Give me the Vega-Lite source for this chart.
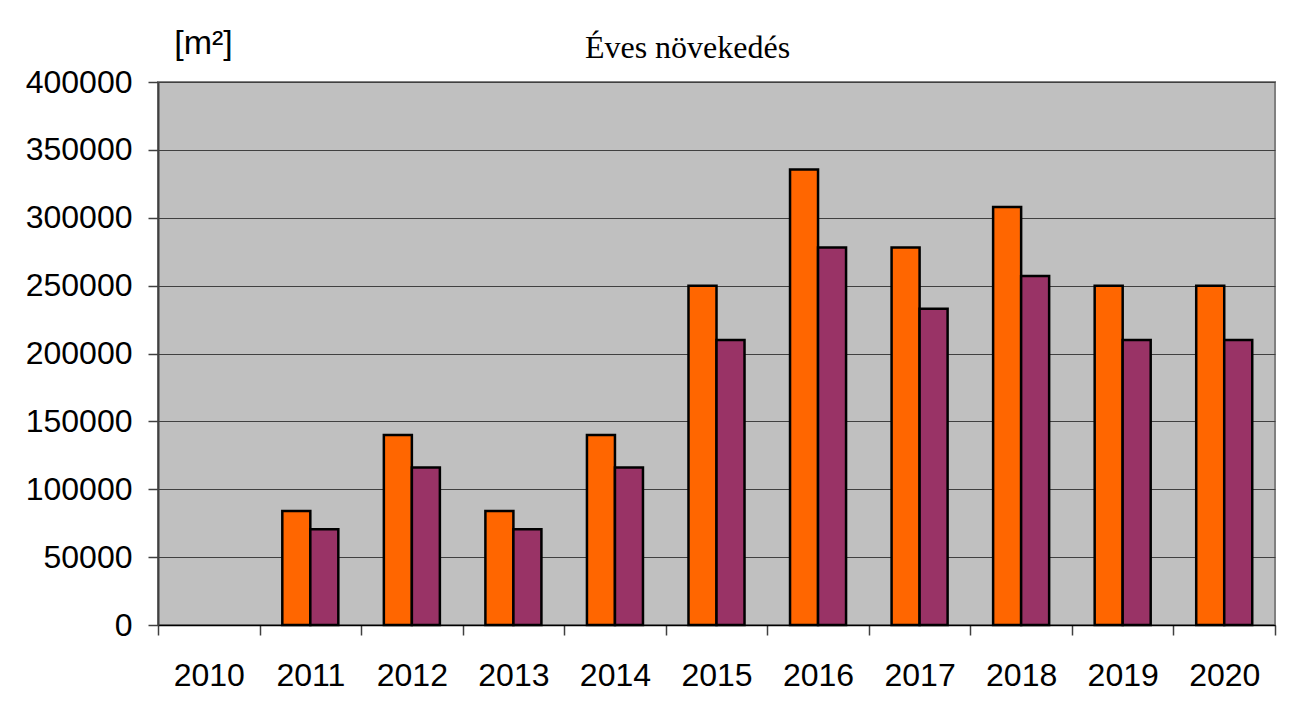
{
  "$schema": "https://vega.github.io/schema/vega-lite/v6.json",
  "width": 1117,
  "height": 543,
  "autosize": {"type": "none"},
  "padding": {"left": 158, "top": 82, "right": 24, "bottom": 84},
  "background": "white",
  "title": {
    "text": "Éves növekedés",
    "font": "Liberation Serif",
    "fontSize": 32,
    "fontWeight": "normal",
    "color": "black",
    "anchor": "middle",
    "baseline": "alphabetic",
    "dx": -29,
    "dy": 64,
    "offset": 0
  },
  "data": {
    "values": [
      {"ev": "2011", "sorozat": "1", "ertek": 84000},
      {"ev": "2011", "sorozat": "2", "ertek": 70500},
      {"ev": "2012", "sorozat": "1", "ertek": 140000},
      {"ev": "2012", "sorozat": "2", "ertek": 116000},
      {"ev": "2013", "sorozat": "1", "ertek": 84000},
      {"ev": "2013", "sorozat": "2", "ertek": 70500},
      {"ev": "2014", "sorozat": "1", "ertek": 140000},
      {"ev": "2014", "sorozat": "2", "ertek": 116000},
      {"ev": "2015", "sorozat": "1", "ertek": 250000},
      {"ev": "2015", "sorozat": "2", "ertek": 210000},
      {"ev": "2016", "sorozat": "1", "ertek": 335500},
      {"ev": "2016", "sorozat": "2", "ertek": 278000},
      {"ev": "2017", "sorozat": "1", "ertek": 278000},
      {"ev": "2017", "sorozat": "2", "ertek": 233000},
      {"ev": "2018", "sorozat": "1", "ertek": 308000},
      {"ev": "2018", "sorozat": "2", "ertek": 257000},
      {"ev": "2019", "sorozat": "1", "ertek": 250000},
      {"ev": "2019", "sorozat": "2", "ertek": 210000},
      {"ev": "2020", "sorozat": "1", "ertek": 250000},
      {"ev": "2020", "sorozat": "2", "ertek": 210000}
    ]
  },
  "mark": {"type": "bar", "stroke": "black", "strokeWidth": 2.5},
  "encoding": {
    "x": {
      "field": "ev",
      "type": "nominal",
      "scale": {"domain": ["2010","2011","2012","2013","2014","2015","2016","2017","2018","2019","2020"], "paddingInner": 0, "paddingOuter": 0},
      "axis": {
        "title": null,
        "labelAngle": 0,
        "labelFont": "Liberation Sans",
        "labelFontSize": 32,
        "labelColor": "black",
        "labelPadding": 25,
        "tickBand": "extent",
        "tickSize": 10,
        "tickColor": "#404040",
        "tickWidth": 1.5,
        "domainColor": "black",
        "domainWidth": 1.5
      }
    },
    "xOffset": {
      "field": "sorozat",
      "type": "nominal",
      "scale": {"paddingInner": 0, "paddingOuter": 0.8125}
    },
    "y": {
      "field": "ertek",
      "type": "quantitative",
      "scale": {"domain": [0, 400000], "nice": false},
      "axis": {
        "values": [0,50000,100000,150000,200000,250000,300000,350000,400000],
        "format": "d",
        "title": "[m²]",
        "titleAngle": 0,
        "titleFont": "Liberation Sans",
        "titleFontSize": 34,
        "titleFontWeight": "normal",
        "titleColor": "black",
        "titleAlign": "center",
        "titleBaseline": "alphabetic",
        "titleX": 45,
        "titleY": -29,
        "labelFont": "Liberation Sans",
        "labelFontSize": 32,
        "labelColor": "black",
        "labelPadding": 16,
        "tickSize": 10,
        "tickColor": "#404040",
        "tickWidth": 1.5,
        "domainColor": "#404040",
        "domainWidth": 2,
        "grid": true,
        "gridColor": "#404040",
        "gridWidth": 1.2
      }
    },
    "color": {
      "field": "sorozat",
      "type": "nominal",
      "scale": {"domain": ["1","2"], "range": ["#FF6600", "#993366"]},
      "legend": null
    }
  },
  "config": {
    "view": {"fill": "#C0C0C0", "stroke": "#808080", "strokeWidth": 2}
  }
}
